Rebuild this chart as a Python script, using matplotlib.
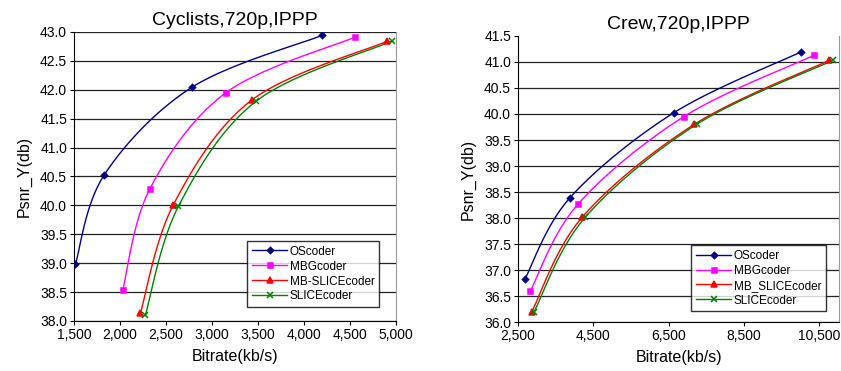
import numpy as np
import matplotlib
matplotlib.use("Agg")
import matplotlib.pyplot as plt

plt.rcParams['font.family'] = ['Liberation Sans', 'DejaVu Sans']

coders = ["OScoder", "MBGcoder", "MB-SLICEcoder", "SLICEcoder"]
coders_crew = ["OScoder", "MBGcoder", "MB_SLICEcoder", "SLICEcoder"]
colors = ["#000080", "#FF00FF", "#FF0000", "#008000"]
markers = ["D", "s", "^", "x"]

# Cyclists, 720p, IPPP
cyc_rate = [
    [1515, 1830, 2779, 4196],
    [2029, 2326, 3152, 4554],
    [2221, 2580, 3431, 4906],
    [2275, 2634, 3478, 4953],
]
cyc_psnr = [
    [38.98, 40.53, 42.04, 42.94],
    [38.53, 40.29, 41.95, 42.91],
    [38.13, 40.01, 41.82, 42.84],
    [38.10, 39.98, 41.80, 42.84],
]

# Crew, 720p, IPPP
crew_rate = [
    [2678, 3879, 6628, 10000],
    [2829, 4084, 6904, 10365],
    [2865, 4208, 7180, 10756],
    [2927, 4279, 7242, 10854],
]
crew_psnr = [
    [36.82, 38.39, 40.02, 41.19],
    [36.60, 38.26, 39.95, 41.13],
    [36.20, 38.02, 39.80, 41.03],
    [36.20, 38.01, 39.80, 41.03],
]


def smooth(x, y, ax, n=30):
    # Catmull-Rom in display space, like Excel's smoothed lines
    pts = ax.transData.transform(np.column_stack([x, y]))
    p = np.vstack([pts[0], pts, pts[-1]])
    out = []
    t = np.linspace(0, 1, n)[:, None]
    for i in range(1, len(p) - 2):
        p0, p1, p2, p3 = p[i - 1], p[i], p[i + 1], p[i + 2]
        c1 = p1 + (p2 - p0) / 6
        c2 = p2 - (p3 - p1) / 6
        seg = ((1 - t) ** 3) * p1 + 3 * ((1 - t) ** 2) * t * c1 + 3 * (1 - t) * t ** 2 * c2 + t ** 3 * p2
        out.append(seg)
    out = np.vstack(out)
    d = ax.transData.inverted().transform(out)
    return d[:, 0], d[:, 1]


fig = plt.figure(figsize=(8.41, 3.71), dpi=100)
ax1 = fig.add_axes([0.088, 0.135, 0.383, 0.779])
ax2 = fig.add_axes([0.616, 0.132, 0.382, 0.771])

msizes = {"D": 3.2, "s": 3.6, "^": 4.4, "x": 4.4}


def draw(ax, rates, psnrs, names, xlim, ylim, xticks, yticks, title, leg_box, grid_top):
    ax.set_xlim(*xlim)
    ax.set_ylim(*ylim)
    ax.set_xticks(xticks)
    ax.set_xticklabels(["{:,}".format(v) for v in xticks], fontsize=10)
    ax.set_yticks(yticks)
    ax.set_yticklabels(["{:.1f}".format(v) for v in yticks], fontsize=10)
    for yv in yticks:
        if yv == yticks[-1] and not grid_top:
            continue
        ax.axhline(yv, color="#222222", lw=0.9, zorder=1)
    fig.canvas.draw()
    handles = []
    for r, p, c, m, nm in zip(rates, psnrs, colors, markers, names):
        sx, sy = smooth(r, p, ax)
        ax.plot(sx, sy, color=c, lw=1.0, zorder=3)
        ms = msizes[m]
        ax.plot(r, p, linestyle="none", marker=m, color=c, ms=ms, mew=1.1, zorder=4)
        h, = ax.plot([], [], color=c, marker=m, ms=ms, lw=1.0, mew=1.1)
        handles.append(h)
    ax.set_title(title, fontsize=14, pad=5)
    ax.set_xlabel("Bitrate(kb/s)", fontsize=11.5, labelpad=5)
    ax.set_ylabel("Psnr_Y(db)", fontsize=11.5, labelpad=6)
    ax.tick_params(direction="out", length=3, width=0.8, pad=2)
    ax.spines["top"].set_visible(False)
    ax.spines["right"].set_color("#999999")
    leg = ax.legend(handles, names, loc="lower left", bbox_to_anchor=leg_box,
                    bbox_transform=fig.transFigure, fontsize=8.5, frameon=True,
                    fancybox=False, edgecolor="black", handlelength=3.0,
                    labelspacing=0.25, borderpad=0.4, handletextpad=0.2,
                    borderaxespad=0)
    leg.get_frame().set_linewidth(1.0)


draw(ax1, cyc_rate, cyc_psnr, coders, (1500, 5000), (38.0, 43.0),
     [1500, 2000, 2500, 3000, 3500, 4000, 4500, 5000],
     [38.0, 38.5, 39.0, 39.5, 40.0, 40.5, 41.0, 41.5, 42.0, 42.5, 43.0],
     "Cyclists,720p,IPPP", (0.294, 0.172), True)
draw(ax2, crew_rate, crew_psnr, coders_crew, (2500, 11030), (36.0, 41.5),
     [2500, 4500, 6500, 8500, 10500],
     [36.0, 36.5, 37.0, 37.5, 38.0, 38.5, 39.0, 39.5, 40.0, 40.5, 41.0, 41.5],
     "Crew,720p,IPPP", (0.822, 0.161), False)

fig.savefig("out.png", dpi=100)
